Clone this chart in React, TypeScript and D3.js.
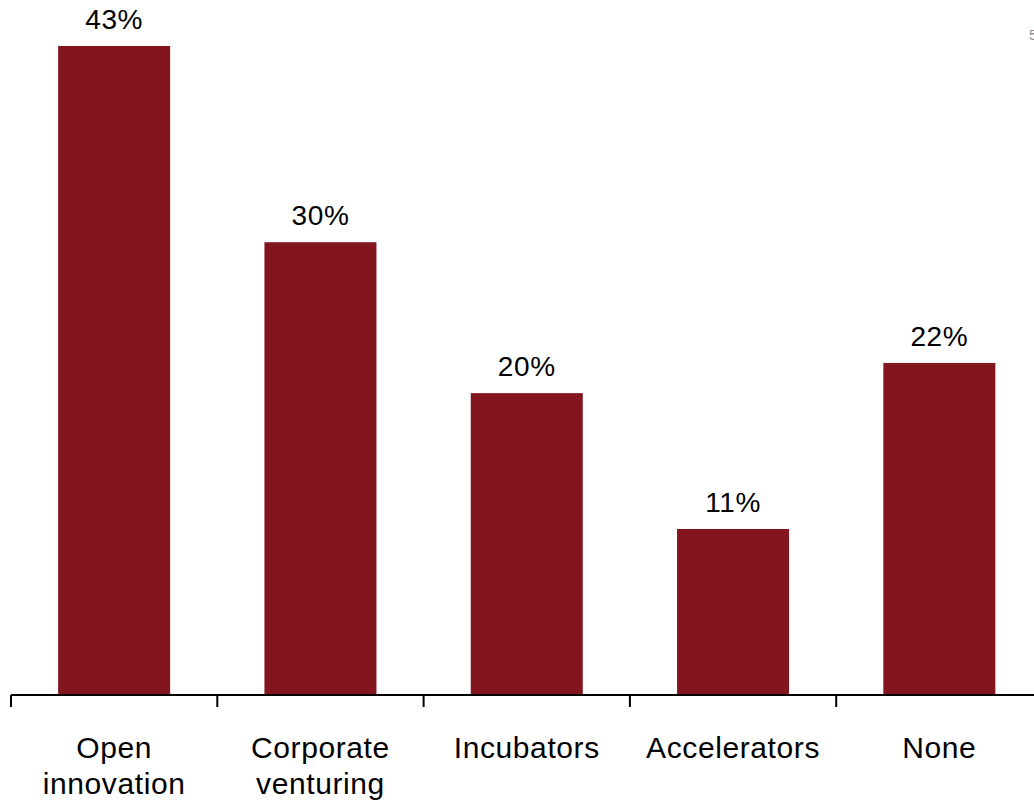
import React from "react";
import * as d3 from "d3";

const categories: string[][] = [
  ["Open", "innovation"],
  ["Corporate", "venturing"],
  ["Incubators"],
  ["Accelerators"],
  ["None"],
];
const values: number[] = [43, 30, 20, 11, 22];

const W = 1034;
const H = 804;

export default function App() {
  const x = d3
    .scaleBand<number>()
    .domain(d3.range(6))
    .range([11, 11 + 206.3 * 6])
    .paddingInner(0.457)
    .paddingOuter(0.2285);
  const y = d3.scaleLinear().domain([0, 43]).range([695, 46]);
  const step = x.step();
  const ticks = d3.range(7).map((i) => 11 + i * step);
  const font = "Liberation Sans, Arial, sans-serif";

  return (
    <svg
      width={W}
      height={H}
      style={{ position: "absolute", left: 0, top: 0, background: "#fff" }}
    >
      {values.map((v, i) => (
        <g key={i}>
          <rect
            x={x(i)!}
            y={y(v)}
            width={x.bandwidth()}
            height={y(0) - y(v)}
            fill="#83151F"
          />
          <text
            x={x(i)! + x.bandwidth() / 2}
            y={y(v) - 17}
            textAnchor="middle"
            fontFamily={font}
            fontSize={28}
            letterSpacing={0.6}
            fill="#000"
          >
            {v}%
          </text>
          {categories[i].map((line, j) => (
            <text
              key={j}
              x={x(i)! + x.bandwidth() / 2}
              y={758 + j * 36}
              textAnchor="middle"
              fontFamily={font}
              fontSize={30}
              letterSpacing={0.6}
              fill="#000"
            >
              {line}
            </text>
          ))}
        </g>
      ))}
      <line x1={11} x2={W} y1={y(0)} y2={y(0)} stroke="#000" strokeWidth={2} />
      {ticks.map((t, i) => (
        <line key={i} x1={t} x2={t} y1={y(0)} y2={y(0) + 12} stroke="#000" strokeWidth={2} />
      ))}
      <text x={1029} y={40} fontFamily={font} fontSize={14} fill="#888">
        5
      </text>
    </svg>
  );
}
